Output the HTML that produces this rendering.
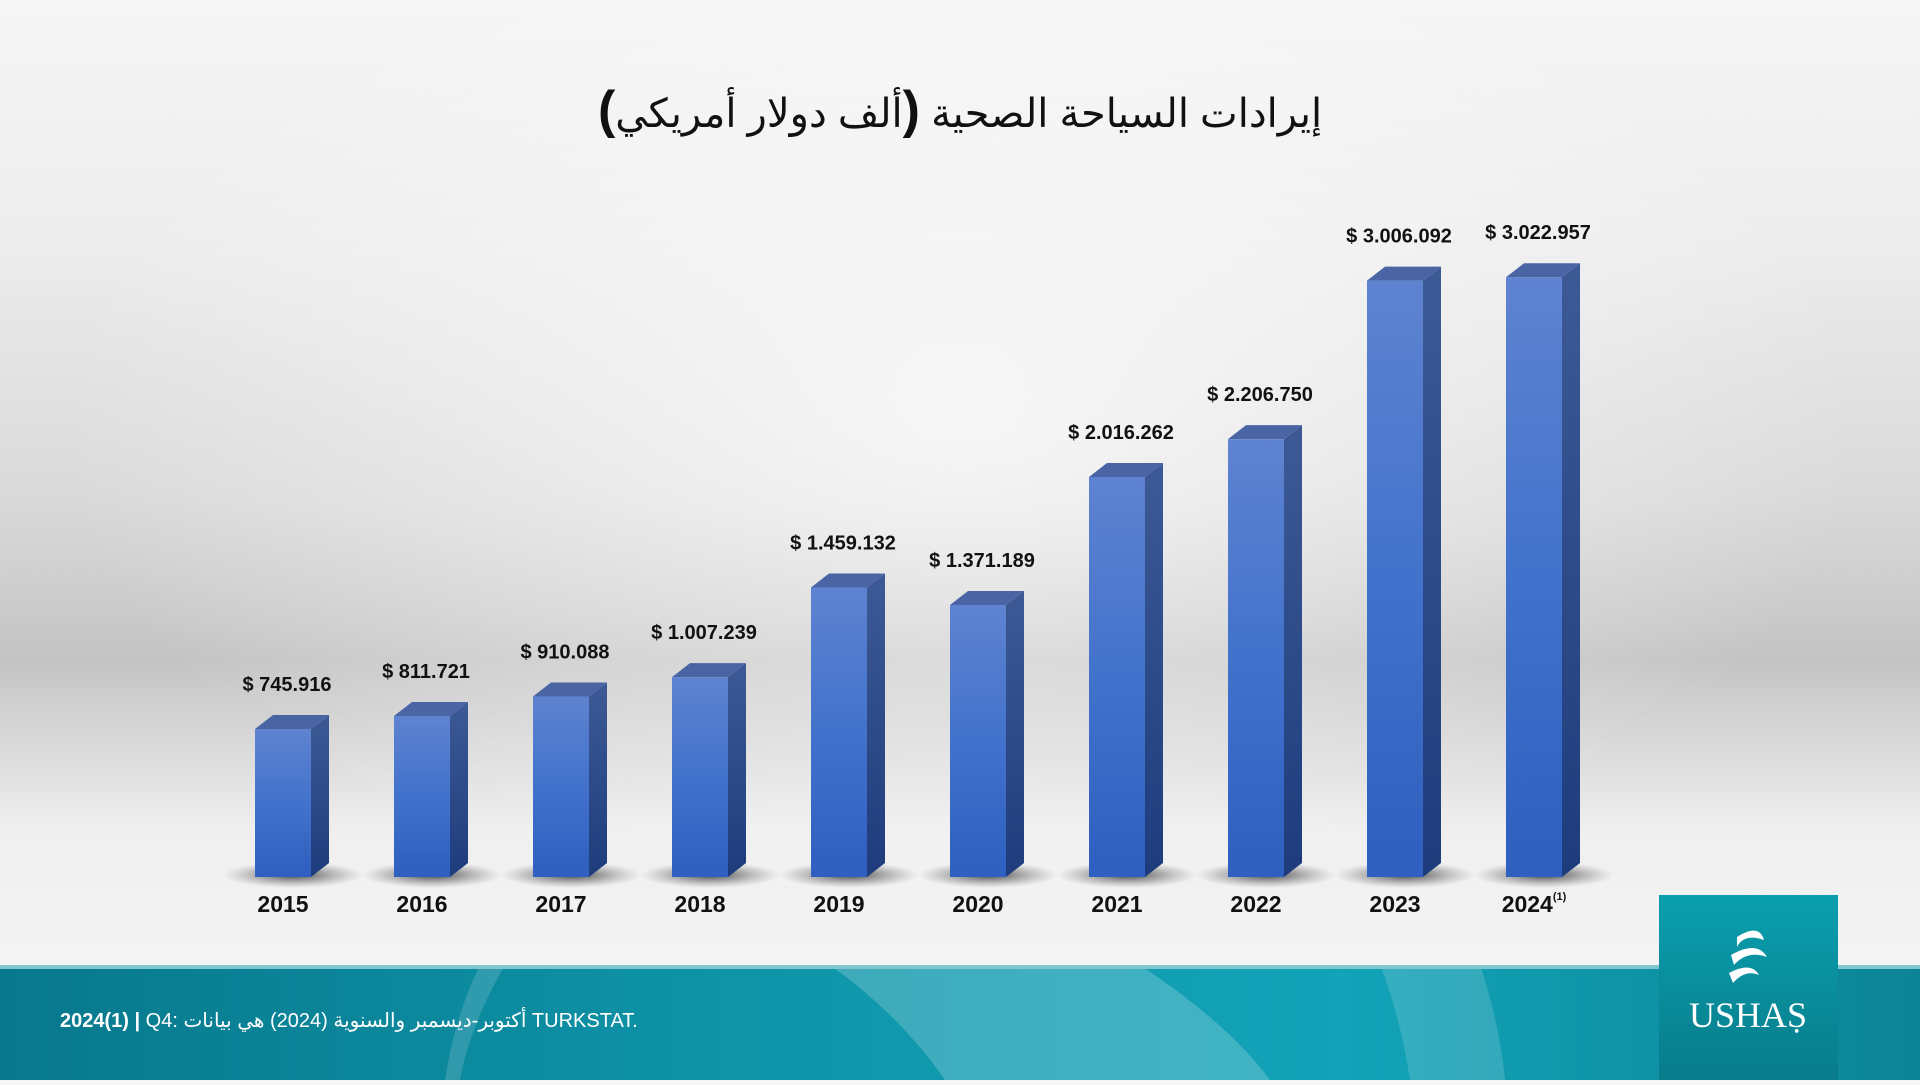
<!DOCTYPE html>
<html><head><meta charset="utf-8">
<style>
html,body{margin:0;padding:0;}
body{width:1920px;height:1080px;overflow:hidden;position:relative;font-family:"Liberation Sans","Noto Sans CJK SC",sans-serif;
background:linear-gradient(180deg,#f6f6f6 0px,#ececec 250px,#d9d9d9 500px,#c4c4c4 660px,#d8d8d8 740px,#efefef 830px,#f4f4f4 960px);}
#glow{position:absolute;left:0;top:0;width:1920px;height:960px;background:radial-gradient(ellipse 900px 500px at 960px 420px,rgba(255,255,255,0.75),rgba(255,255,255,0) 100%);}
#title{position:absolute;left:0;width:1920px;top:80px;text-align:center;font-size:40px;color:#111;font-family:"Liberation Sans","DejaVu Sans",sans-serif;direction:rtl;}
#title b{font-size:52px;font-weight:900;}
#footer{position:absolute;left:0;top:965px;width:1920px;height:115px;overflow:hidden;background:linear-gradient(90deg,#08788d 0%,#0f95a9 40%,#12a3b8 70%,#0c8496 100%);}
#logo{position:absolute;left:1659px;top:895px;width:179px;height:185px;background:linear-gradient(180deg,#0a9fae,#087c8b);}
#foottext{position:absolute;left:60px;top:1008px;color:#fff;font-size:20px;white-space:nowrap;font-family:"Liberation Sans","DejaVu Sans",sans-serif;}
</style></head>
<body>
<div id="glow"></div>
<div id="title">إيرادات السياحة الصحية <b>(</b>ألف دولار أمريكي<b>)</b></div>
<svg id="chart" width="1920" height="960" style="position:absolute;left:0;top:0">
<defs>
<linearGradient id="front" x1="0" y1="0" x2="0" y2="1"><stop offset="0" stop-color="#5e83d0"/><stop offset="0.5" stop-color="#4272cc"/><stop offset="1" stop-color="#2f5fbf"/></linearGradient>
<linearGradient id="side" x1="0" y1="0" x2="0" y2="1"><stop offset="0" stop-color="#3d5a96"/><stop offset="1" stop-color="#1e3c7c"/></linearGradient>
<radialGradient id="shadow"><stop offset="0" stop-color="#333" stop-opacity="0.9"/><stop offset="1" stop-color="#777" stop-opacity="0"/></radialGradient>
</defs>
<g id="bars"></g>
</svg>
<div id="footer">
<svg width="1920" height="115" style="position:absolute;left:0;top:0">
<path d="M480 0 L505 0 Q470 60 460 115 L445 115 Q455 50 480 0Z" fill="#ffffff" opacity="0.15"/>
<path d="M830 0 L1140 0 Q1230 60 1270 115 L945 115 Q900 50 830 0Z" fill="#ffffff" opacity="0.2"/>
<path d="M1380 0 L1480 0 Q1500 60 1505 115 L1410 115 Q1400 50 1380 0Z" fill="#ffffff" opacity="0.15"/>
<rect x="0" y="0" width="1920" height="4" fill="#7fc6cf"/>
</svg>
</div>
<div id="foottext"><b>2024(1) | </b>Q4: أكتوبر-ديسمبر والسنوية (2024) هي بيانات TURKSTAT.</div>
<div id="logo">
<svg width="179" height="185">
<path d="M78 42 Q100 28 105 45 Q85 38 78 52Z M72 60 Q98 45 108 62 Q88 55 75 70Z M70 78 Q92 66 100 80 Q86 74 74 88Z" fill="#fff"/>
<text x="89" y="132" text-anchor="middle" font-family="Liberation Serif,serif" font-size="36" fill="#fff">USHAṢ</text>
</svg>
</div>
<script>
const years=["2015","2016","2017","2018","2019","2020","2021","2022","2023","2024"];
const values=[745.916,811.721,910.088,1007.239,1459.132,1371.189,2016.262,2206.750,3006.092,3022.957];
const valueLabels=["$ 745.916","$ 811.721","$ 910.088","$ 1.007.239","$ 1.459.132","$ 1.371.189","$ 2.016.262","$ 2.206.750","$ 3.006.092","$ 3.022.957"];
const NS="http://www.w3.org/2000/svg";
const baseY=877, pxPerK=0.1984, x0=255, step=139, bw=56, dx=18, dy=14;
function xScale(i){return x0+i*step;}
function yScale(v){return baseY-v*pxPerK;}
const g=document.getElementById('bars');
function mk(tag,attrs){const e=document.createElementNS(NS,tag);for(const k in attrs)e.setAttribute(k,attrs[k]);return e;}
years.forEach((yr,i)=>{
 const x=xScale(i), top=yScale(values[i]);
 const sh=mk('ellipse',{cx:x+bw/2+10,cy:baseY-2,rx:70,ry:13,fill:'url(#shadow)'});
 
 
 g.appendChild(sh);
 const side=mk('polygon',{points:`${x+bw},${top} ${x+bw+dx},${top-dy} ${x+bw+dx},${baseY-dy} ${x+bw},${baseY}`,fill:'url(#side)'});
 
 
 g.appendChild(side);
 const tp=mk('polygon',{points:`${x},${top} ${x+dx},${top-dy} ${x+bw+dx},${top-dy} ${x+bw},${top}`,fill:'#4a64a4'});
 
 
 g.appendChild(tp);
 const fr=mk('rect',{x:x,y:top,width:bw,height:baseY-top,fill:'url(#front)'});
 
 
 g.appendChild(fr);
 const vl=mk('text',{x:x+bw/2+4,y:top-38,'text-anchor':'middle','font-size':'20','font-weight':'bold',fill:'#111','font-family':'Liberation Sans,sans-serif'});
 vl.textContent=valueLabels[i];
 
 
 g.appendChild(vl);
 const yl=mk('text',{x:x+bw/2,y:912,'text-anchor':'middle','font-size':'23','font-weight':'bold',fill:'#111','font-family':'Liberation Sans,sans-serif'});
 yl.textContent=yr;
 if(i===years.length-1){const s=mk('tspan',{'font-size':'11',dy:'-12'});s.textContent='(1)';yl.appendChild(s);}
 
 
 g.appendChild(yl);
});
</script>
</body></html>
